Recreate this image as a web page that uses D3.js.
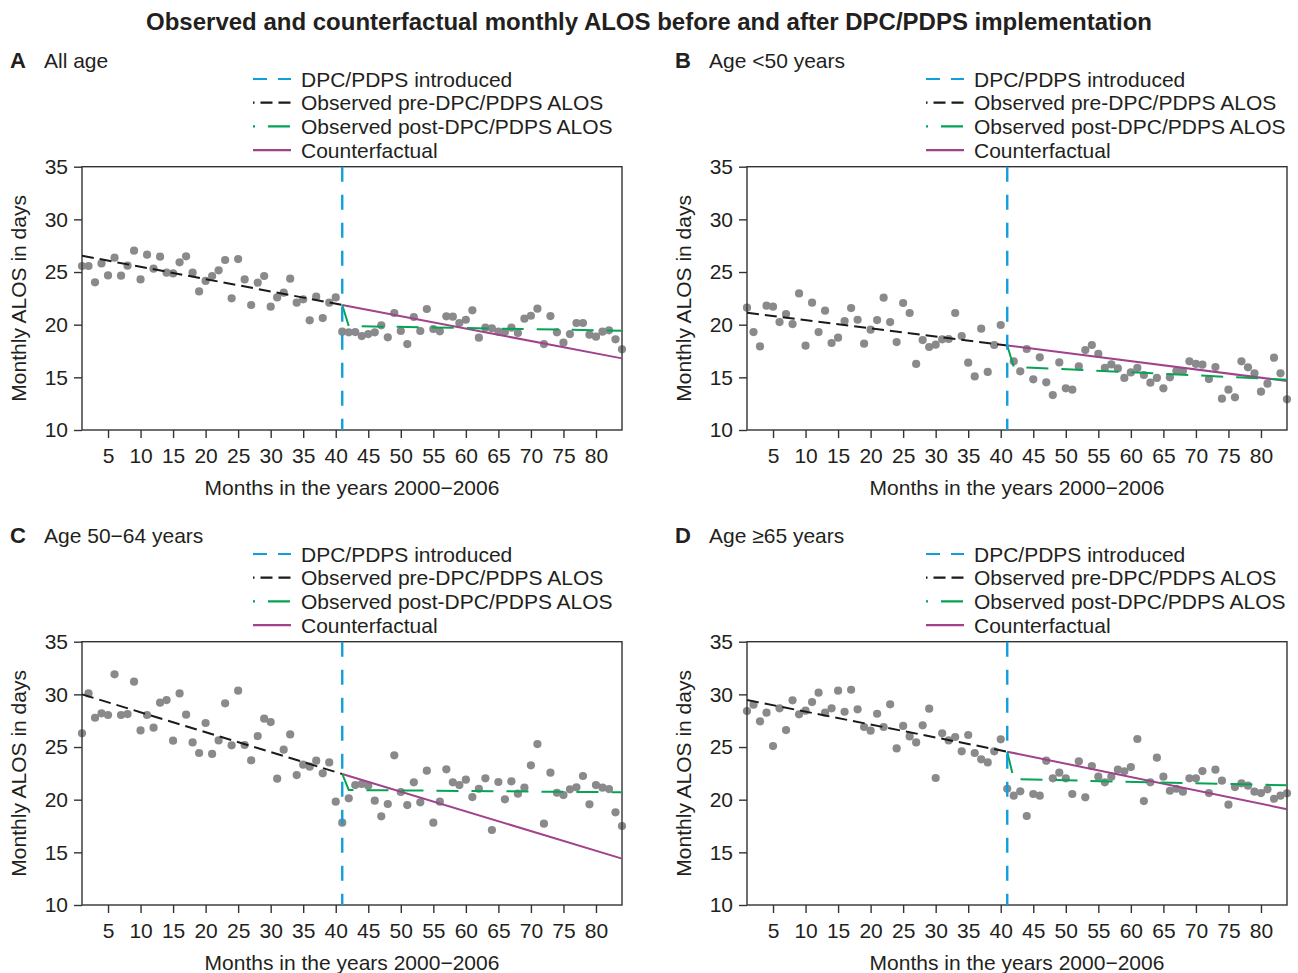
<!DOCTYPE html>
<html>
<head>
<meta charset="utf-8">
<script src="https://cdn.jsdelivr.net/npm/d3@7"></script>
<style>
  body { margin: 0; background: #fff; }
  svg text { font-family: "Liberation Sans", Arial, Helvetica, sans-serif; fill: #231f20; }
</style>
</head>
<body>
<svg id="chart" width="1298" height="973"></svg>
<script>
// ---- data ----
var monthDomain = [1, 84];
var xTicks = d3.range(5, 85, 5);
var yTicks = [10, 15, 20, 25, 30, 35];
var interventionMonth = 41;

var legendLabels = ["DPC/PDPS introduced", "Observed pre-DPC/PDPS ALOS",
                    "Observed post-DPC/PDPS ALOS", "Counterfactual"];

// monthly ALOS, months 1..84
var alosAll = [25.57, 25.57, 24.02, 25.82, 24.68, 26.36, 24.65, 25.60, 27.03, 24.30,
  26.65, 25.32, 26.46, 24.94, 24.87, 25.92, 26.49, 24.94, 23.16, 24.15,
  24.62, 25.16, 26.14, 22.50, 26.23, 24.30, 21.87, 23.99, 24.62, 21.71,
  22.59, 23.04, 24.37, 22.09, 22.41, 20.41, 22.66, 20.63, 22.09, 22.59,
  19.34, 19.27, 19.30, 18.92, 19.11, 19.27, 19.94, 18.80, 21.11, 19.40,
  18.16, 20.73, 19.40, 21.49, 19.59, 19.37, 20.79, 20.76, 20.16, 20.47,
  21.36, 18.77, 19.72, 19.65, 19.34, 19.30, 19.72, 19.21, 20.57, 20.85,
  21.52, 18.16, 20.82, 19.27, 18.29, 19.11, 20.16, 20.16, 19.05, 18.86,
  19.34, 19.46, 18.61, 17.66];

var alosUnder50 = [21.61, 19.30, 17.94, 21.80, 21.71, 20.25, 21.01, 20.06, 22.97, 18.01,
  22.09, 19.30, 21.33, 18.26, 18.77, 20.35, 21.58, 20.47, 18.20, 19.53,
  20.44, 22.56, 20.25, 18.35, 22.06, 21.11, 16.27, 18.54, 17.88, 18.10,
  18.61, 18.64, 21.11, 18.92, 16.39, 15.09, 19.62, 15.51, 18.07, 19.97,
  null, 16.52, 15.57, 17.69, 14.81, 16.90, 14.53, 13.32, 16.42, 13.96,
  13.83, 16.04, 17.59, 18.07, 17.22, 15.89, 16.23, 15.85, 14.94, 15.47,
  15.89, 15.22, 14.49, 14.94, 13.96, 15.00, 15.60, 15.60, 16.52, 16.27,
  16.20, 14.84, 15.98, 12.97, 13.83, 13.10, 16.52, 15.95, 15.38, 13.64,
  14.40, 16.87, 15.38, 12.91];

var alos50to64 = [26.30, 30.09, 27.78, 28.20, 28.04, 31.90, 28.04, 28.13, 31.20, 26.58,
  28.04, 26.84, 29.21, 29.46, 25.60, 30.09, 28.07, 25.44, 24.43, 27.28,
  24.34, 25.63, 29.15, 25.16, 30.35, 25.19, 23.73, 26.04, 27.69, 27.37,
  21.99, 24.75, 26.20, 22.34, 23.32, 23.13, 23.70, 22.50, 23.54, 19.81,
  17.82, 20.13, 21.39, 21.49, 21.33, 19.91, 18.42, 19.59, 24.21, 20.73,
  19.49, 21.65, 19.75, 22.75, 17.82, 19.81, 22.88, 21.65, 21.39, 21.90,
  20.25, 21.04, 22.03, 17.12, 21.68, 20.03, 21.74, 20.57, 21.14, 23.26,
  25.28, 17.72, 22.56, 20.66, 20.44, 20.98, 21.17, 22.25, 19.56, 21.39,
  21.14, 21.01, 18.80, 17.50];

var alos65plus = [28.42, 29.02, 27.44, 28.26, 25.09, 28.67, 26.61, 29.43, 28.10, 28.45,
  29.27, 30.16, 28.26, 28.67, 30.35, 28.35, 30.44, 28.58, 26.90, 26.55,
  28.16, 26.90, 29.05, 24.87, 27.00, 26.01, 25.44, 27.06, 28.64, 22.06,
  26.30, 25.63, 25.95, 24.59, 26.14, 24.43, 23.83, 23.54, 24.59, 25.73,
  21.04, 20.38, 20.79, 18.45, 20.54, 20.38, 23.70, 22.03, 22.56, 22.03,
  20.54, 23.64, 20.22, 23.20, 22.18, 21.65, 22.18, 22.85, 22.69, 23.10,
  25.76, 19.87, 21.65, 23.99, 22.18, 20.85, 21.04, 20.76, 22.03, 22.03,
  22.72, 20.63, 22.85, 21.80, 19.53, 21.20, 21.55, 21.33, 20.76, 20.63,
  20.98, 20.09, 20.38, 20.60];

// fitted segments: pre = [month 1, month 41], post = [month 42, month 84], cf = [month 41, month 84]
var preAll = [26.55, 21.87],  postAll = [19.87, 19.43],  cfAll = [21.87, 16.80];
var preU50 = [21.14, 18.03],  postU50 = [16.00, 14.78],  cfU50 = [18.03, 14.65];
var pre5064 = [30.00, 22.44], post5064 = [20.92, 20.70], cf5064 = [22.44, 14.40];
var pre65 = [29.46, 24.56],   post65 = [21.95, 21.36],   cf65 = [24.56, 19.10];

var panels = [
  {letter: "A", name: "All age",          values: alosAll,     pre: preAll,  post: postAll,  cf: cfAll,  col: 0, row: 0},
  {letter: "B", name: "Age <50 years",    values: alosUnder50, pre: preU50,  post: postU50,  cf: cfU50,  col: 1, row: 0},
  {letter: "C", name: "Age 50\u221264 years", values: alos50to64, pre: pre5064, post: post5064, cf: cf5064, col: 0, row: 1},
  {letter: "D", name: "Age \u226565 years",   values: alos65plus, pre: pre65,   post: post65,   cf: cf65,   col: 1, row: 1}
];

// ---- layout ----
var svg = d3.select("#chart");
var plotW = 540, plotH = 263.3;
var colLeft = [82, 747];
var rowTop = [166.7, 641.7];
var fontSize = 21;

var colBlue = "#119fdc", colBlack = "#1a1a1a", colGreen = "#05a454", colPurple = "#a0428c";
var colDot = "#8a8a8c", colFrame = "#333";

svg.append("rect").attr("width", 1298).attr("height", 973).attr("fill", "white");

svg.append("text")
  .attr("x", 649).attr("y", 30)
  .attr("text-anchor", "middle")
  .style("font-size", "24px")
  .style("font-weight", "bold")
  .text("Observed and counterfactual monthly ALOS before and after DPC/PDPS implementation");

var x = d3.scaleLinear().domain(monthDomain).range([0, plotW]);
var y = d3.scaleLinear().domain([10, 35]).range([plotH, 0]);

var line = d3.line()
  .x(function(d) { return x(d[0]); })
  .y(function(d) { return y(d[1]); });

panels.forEach(function(p) {
  var g = svg.append("g")
    .attr("transform", "translate(" + colLeft[p.col] + "," + rowTop[p.row] + ")");

  // panel heading
  g.append("text").attr("x", 10 - colLeft[p.col] + (p.col ? 665 : 0)).attr("y", -99)
    .style("font-size", "22px").style("font-weight", "bold").text(p.letter);
  g.append("text").attr("x", 44 - colLeft[p.col] + (p.col ? 665 : 0)).attr("y", -99)
    .style("font-size", fontSize + "px").text(p.name);

  // legend
  var leg = g.append("g").attr("transform", "translate(" + (171 + p.col * 8) + ",-87.7)");
  var legStyles = [
    {c: colBlue,   dash: "14,11", off: 0},
    {c: colBlack,  dash: "12,6",  off: 10.5},
    {c: colGreen,  dash: "22,13", off: 20},
    {c: colPurple, dash: null,    off: 0}
  ];
  legendLabels.forEach(function(lab, i) {
    var ly = i * 23.7;
    leg.append("line")
      .attr("x1", 0).attr("x2", 38).attr("y1", ly).attr("y2", ly)
      .attr("stroke", legStyles[i].c).attr("stroke-width", 2.2)
      .attr("stroke-dasharray", legStyles[i].dash)
      .attr("stroke-dashoffset", legStyles[i].off);
    leg.append("text").attr("x", 48).attr("y", ly + 7.5)
      .style("font-size", fontSize + "px").text(lab);
  });

  // axes
  var xAxis = d3.axisBottom(x).tickValues(xTicks).tickSize(8).tickPadding(10).tickSizeOuter(0);
  var yAxis = d3.axisLeft(y).tickValues(yTicks).tickSize(8).tickPadding(6).tickSizeOuter(0);

  var gx = g.append("g").attr("transform", "translate(0," + plotH + ")").call(xAxis);
  var gy = g.append("g").call(yAxis);
  [gx, gy].forEach(function(ax) {
    ax.select(".domain").remove();
    ax.selectAll(".tick line").attr("stroke", colFrame).attr("stroke-width", 1.4);
    ax.selectAll(".tick text")
      .style("font-size", fontSize + "px")
      .style("font-family", "'Liberation Sans', Arial, sans-serif")
      .attr("fill", "#231f20");
  });

  g.append("text")
    .attr("x", plotW / 2).attr("y", plotH + 65)
    .attr("text-anchor", "middle")
    .style("font-size", fontSize + "px")
    .text("Months in the years 2000\u22122006");

  g.append("text")
    .attr("transform", "translate(" + (26 - 82) + "," + (plotH / 2) + ") rotate(-90)")
    .attr("text-anchor", "middle")
    .style("font-size", fontSize + "px")
    .text("Monthly ALOS in days");

  // observed points
  var pts = p.values.map(function(v, i) { return [i + 1, v]; })
    .filter(function(d) { return d[1] != null; });
  g.append("g").selectAll("circle")
    .data(pts).enter().append("circle")
    .attr("cx", function(d) { return x(d[0]); })
    .attr("cy", function(d) { return y(d[1]); })
    .attr("r", 4.1)
    .attr("fill", colDot);

  // frame
  g.append("rect")
    .attr("width", plotW).attr("height", plotH)
    .attr("fill", "none").attr("stroke", colFrame).attr("stroke-width", 1.4);

  // fitted lines
  g.append("path")
    .datum([[1, p.pre[0]], [interventionMonth, p.pre[1]]])
    .attr("d", line).attr("fill", "none")
    .attr("stroke", colBlack).attr("stroke-width", 2)
    .attr("stroke-dasharray", "12,6");

  g.append("path")
    .datum([[interventionMonth, p.cf[0]], [84, p.cf[1]]])
    .attr("d", line).attr("fill", "none")
    .attr("stroke", colPurple).attr("stroke-width", 2);

  g.append("path")
    .datum([[interventionMonth, p.pre[1]], [interventionMonth + 1, p.post[0]], [84, p.post[1]]])
    .attr("d", line).attr("fill", "none")
    .attr("stroke", colGreen).attr("stroke-width", 2)
    .attr("stroke-dasharray", "22,13");

  // intervention
  g.append("line")
    .attr("x1", x(interventionMonth)).attr("x2", x(interventionMonth))
    .attr("y1", y(35)).attr("y2", y(10))
    .attr("stroke", colBlue).attr("stroke-width", 2.4)
    .attr("stroke-dasharray", "15,13");
});
</script>
</body>
</html>
